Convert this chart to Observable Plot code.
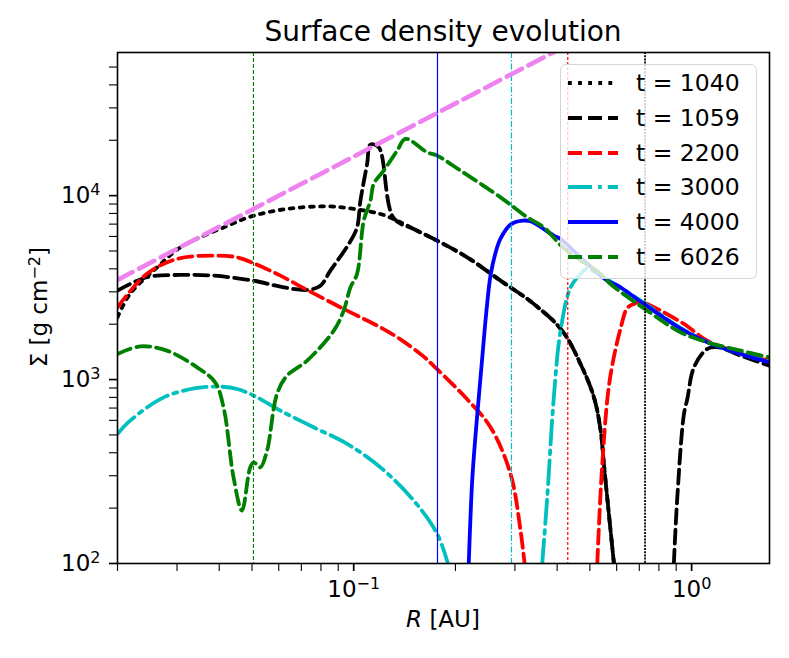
<!DOCTYPE html>
<html>
<head>
<meta charset="utf-8">
<script src="https://cdn.jsdelivr.net/npm/d3@7"></script>
<script src="https://cdn.jsdelivr.net/npm/@observablehq/plot@0.6"></script>
<style>
  body { margin: 0; background: white; }
  #wrap { position: relative; width: 789px; height: 658px; font-family: "DejaVu Sans", sans-serif; overflow: hidden; }
  #title { box-sizing: border-box; height: 45px; width: 789px; padding: 15px 20px 0 117px; text-align: center; font-size: 28px; line-height: normal; white-space: nowrap; }
  #legend { position: absolute; left: 560px; top: 64px; width: 197px; height: 215px; box-sizing: border-box;
            border: 1px solid #d6d6d6; border-radius: 6px; background: rgba(255,255,255,0.8); }
  .row { position: absolute; left: 0; height: 34px; display: flex; align-items: center; font-size: 23.5px; white-space: nowrap; }
  .row svg { margin-left: 7px; }
  .row span { margin-left: 18px; }
</style>
</head>
<body>
<div id="wrap">
  <div id="title">Surface density evolution</div>
  <div id="chart"></div>
  <div id="legend"></div>
</div>
<script>
// ---- data: [R (AU), Sigma (g cm^-2)], NaN breaks a line where it drops below the axis ----
const t1040 = [
  [0.0200, 2180], [0.0218, 2930], [0.0262, 4075], [0.0307, 5230], [0.0412, 6720], [0.0506, 7780],
  [0.0635, 8465], [0.0834, 8745], [0.100, 8465], [0.120, 7950], [0.1345, 7310], [0.1505, 6590],
  [0.1766, 5690], [0.2167, 4620], [0.272, 3450], [0.341, 2580], [0.414, 1844], [0.469, 1216],
  [0.514, 800], [0.538, 527], [0.550, 347], [0.569, 186], [0.589, 100]
];
const t1059 = [
  [0.0200, 3044], [0.0244, 3600], [0.0307, 3706], [0.0385, 3673], [0.0506, 3448], [0.0607, 3200],
  [0.0728, 3070], [0.0797, 3240], [0.0853, 3910], [0.0967, 5460], [0.1023, 6720], [0.1047, 9390],
  [0.1096, 14930], [0.1121, 18940], [0.1186, 18310], [0.1313, 7540], [0.1505, 6590],
  [0.1766, 5690], [0.2167, 4620], [0.272, 3450], [0.341, 2580], [0.414, 1844], [0.469, 1216],
  [0.514, 800], [0.538, 527], [0.550, 347], [0.569, 186], [0.589, 100],
  [0.700, NaN],
  [0.886, 100], [0.907, 229], [0.949, 650], [0.971, 784], [1.016, 1165], [1.113, 1470],
  [1.192, 1500], [1.397, 1349], [1.700, 1190]
];
const t2200 = [
  [0.0200, 2469], [0.0244, 3752], [0.0300, 4527], [0.0385, 4718], [0.0452, 4619], [0.0506, 4284],
  [0.0607, 3673], [0.0728, 3070], [0.0956, 2369], [0.120, 1922], [0.1375, 1654], [0.1612, 1332],
  [0.1766, 1138], [0.2167, 781], [0.254, 551], [0.2911, 307], [0.3117, 151], [0.3204, 100],
  [0.400, NaN],
  [0.5258, 100], [0.544, 347], [0.572, 986], [0.6164, 1900], [0.6451, 2450], [0.6747, 2577],
  [0.705, 2650], [0.7914, 2420], [0.9489, 2006], [1.113, 1627], [1.397, 1385], [1.700, 1267]
];
const t3000 = [
  [0.0200, 506], [0.0218, 598], [0.0274, 800], [0.0344, 900], [0.0403, 915], [0.0452, 889],
  [0.0506, 818], [0.0607, 678], [0.0761, 550], [0.0956, 447], [0.120, 333], [0.1505, 220],
  [0.1766, 145], [0.190, 100],
  [0.250, NaN],
  [0.3613, 100], [0.3739, 229], [0.391, 800], [0.4094, 1844], [0.4382, 3172], [0.4692, 3752],
  [0.4880, 4000], [0.5082, 3911], [0.5628, 3500], [0.6026, 3250], [0.7208, 2620], [0.9277, 1910],
  [1.113, 1600], [1.397, 1380], [1.700, 1250]
];
const t4000 = [
  [0.219, 100], [0.2242, 282], [0.2293, 495], [0.2345, 800], [0.2404, 1349], [0.2471, 2369],
  [0.254, 3673], [0.2629, 4898], [0.2719, 5838], [0.2911, 6954], [0.3154, 7311], [0.3335, 7250],
  [0.391, 6061], [0.4094, 5812], [0.4799, 4431], [0.5628, 3448], [0.6026, 3250], [0.7208, 2586],
  [0.9277, 1891], [1.113, 1594], [1.397, 1378], [1.700, 1240]
];
const t6026 = [
  [0.0200, 1377], [0.0234, 1515], [0.0280, 1436], [0.0344, 1165], [0.0389, 966], [0.0412, 706],
  [0.0441, 294], [0.0467, 194], [0.0494, 333], [0.0506, 355], [0.0529, 333], [0.0554, 410],
  [0.0593, 835], [0.0635, 1050], [0.0728, 1267], [0.0873, 1844], [0.0934, 2369], [0.0978, 3172],
  [0.1023, 3752], [0.1071, 7311], [0.1121, 9393], [0.1146, 11580], [0.1227, 13680], [0.1345, 17570],
  [0.1423, 20340], [0.165, 17200], [0.1766, 16500], [0.207, 13680], [0.272, 9790], [0.3264, 7620],
  [0.3652, 6723], [0.420, 5150], [0.5377, 3752], [0.5756, 3309], [0.7391, 2369], [0.9277, 1806],
  [1.113, 1594], [1.397, 1436], [1.700, 1320]
];
const powerLaw = [[0.02, 3480], [0.42, 64600]];
const planetR = [0.0505, 0.177, 0.293, 0.43, 0.728];
const planetColor = ["green", "blue", "#00bfbf", "red", "black"];
const planetDash = ["4,2", null, "6,2,1.5,2", "3,2", "2,1.2"];
const planetWidth = [1.1, 1.2, 1.2, 1.2, 1.8];

const legendLabels = ["t = 1040", "t = 1059", "t = 2200", "t = 3000", "t = 4000", "t = 6026"];
const seriesColor = ["black", "black", "red", "#00bfbf", "blue", "green"];
const seriesDash = ["3.8,6.3", "14,6", "14,6", "24,6,3.8,6", null, "14,6"];
const seriesData = [t1040, t1059, t2200, t3000, t4000, t6026];

const xMajor = [0.1, 1];
const xMinor = [0.02, 0.03, 0.04, 0.05, 0.06, 0.07, 0.08, 0.09, 0.2, 0.3, 0.4, 0.5, 0.6, 0.7, 0.8, 0.9];
const yMajor = [100, 1000, 10000];
const yMinor = [200, 300, 400, 500, 600, 700, 800, 900, 2000, 3000, 4000, 5000, 6000, 7000, 8000, 9000, 20000, 30000, 40000, 50000];
const expLabel = v => "10^" + String(Math.round(Math.log10(v))).replace("-", "\u2212");

// ---- marks ----
const marks = [];
seriesData.forEach((data, i) => {
  marks.push(Plot.line(data, {
    x: d => d[0], y: d => d[1], stroke: seriesColor[i], strokeWidth: 3.8,
    strokeDasharray: seriesDash[i], curve: "catmull-rom", clip: true
  }));
});
planetR.forEach((r, j) => {
  marks.push(Plot.ruleX([r], {stroke: planetColor[j], strokeWidth: planetWidth[j], strokeDasharray: planetDash[j]}));
});
marks.push(Plot.line(powerLaw, {x: d => d[0], y: d => d[1], stroke: "#ee82ee", strokeWidth: 4.6, strokeDasharray: "17,7.4", clip: true}));

marks.push(
  Plot.axisX({ticks: xMinor, tickFormat: () => "", tickSize: 8, strokeWidth: 1.1}),
  Plot.axisX({ticks: xMajor, tickFormat: expLabel, tickSize: 8, tickPadding: 9, strokeWidth: 1.7, fontSize: 23}),
  Plot.axisY({ticks: yMinor, tickFormat: () => "", tickSize: 8, strokeWidth: 1.1}),
  Plot.axisY({ticks: yMajor, tickFormat: expLabel, tickSize: 8, tickPadding: 9, strokeWidth: 1.7, fontSize: 23}),
  Plot.frame({stroke: "black", strokeWidth: 1.6})
);

const chart = Plot.plot({
  width: 789, height: 613,
  marginTop: 7, marginBottom: 95, marginLeft: 117, marginRight: 20,
  x: {type: "log", domain: [0.02, 1.7]},
  y: {type: "log", domain: [100, 60000]},
  style: {fontFamily: "DejaVu Sans", fontSize: "23px", background: "white", color: "black"},
  marks
});
document.getElementById("chart").appendChild(chart);

// ---- superscripts in tick labels ----
const NS = "http://www.w3.org/2000/svg";
function fillWithSup(el, parts) {
  el.textContent = "";
  parts.forEach(p => {
    const t = document.createElementNS(NS, "tspan");
    t.textContent = p.text;
    if (p.dy) t.setAttribute("dy", p.dy);
    if (p.size) t.setAttribute("font-size", p.size);
    if (p.italic) t.setAttribute("font-style", "italic");
    el.appendChild(t);
  });
}
chart.querySelectorAll("text").forEach(el => {
  const s = el.textContent;
  const k = s.indexOf("^");
  if (k >= 0) fillWithSup(el, [{text: s.slice(0, k)}, {text: s.slice(k + 1), dy: -7.6, size: 16}]);
});

// ---- axis labels ----
const svg = d3.select(chart);
const xl = svg.append("text").attr("x", 443).attr("y", 581.7).attr("text-anchor", "middle")
  .attr("font-size", 23).attr("fill", "black");
fillWithSup(xl.node(), [{text: "R", italic: true}, {text: " [AU]"}]);
const yl = svg.append("text").attr("transform", "translate(47.3,262.2) rotate(-90)").attr("text-anchor", "middle")
  .attr("font-size", 23).attr("fill", "black");
fillWithSup(yl.node(), [{text: "\u03A3 [g cm"}, {text: "\u22122", dy: -7.6, size: 16}, {text: "]", dy: 7.6}]);

// ---- legend ----
const leg = document.getElementById("legend");
legendLabels.forEach((lab, i) => {
  const row = document.createElement("div");
  row.className = "row";
  row.style.top = (19.3 + i * 34.67 - 17 - 1) + "px";
  const s = d3.create("svg").attr("width", 50).attr("height", 10);
  s.append("line").attr("x1", 0).attr("x2", 50).attr("y1", 5).attr("y2", 5)
    .attr("stroke", seriesColor[i]).attr("stroke-width", 3.8)
    .attr("stroke-dasharray", seriesDash[i]);
  row.appendChild(s.node());
  const sp = document.createElement("span");
  sp.textContent = lab;
  row.appendChild(sp);
  leg.appendChild(row);
});
</script>
</body>
</html>
